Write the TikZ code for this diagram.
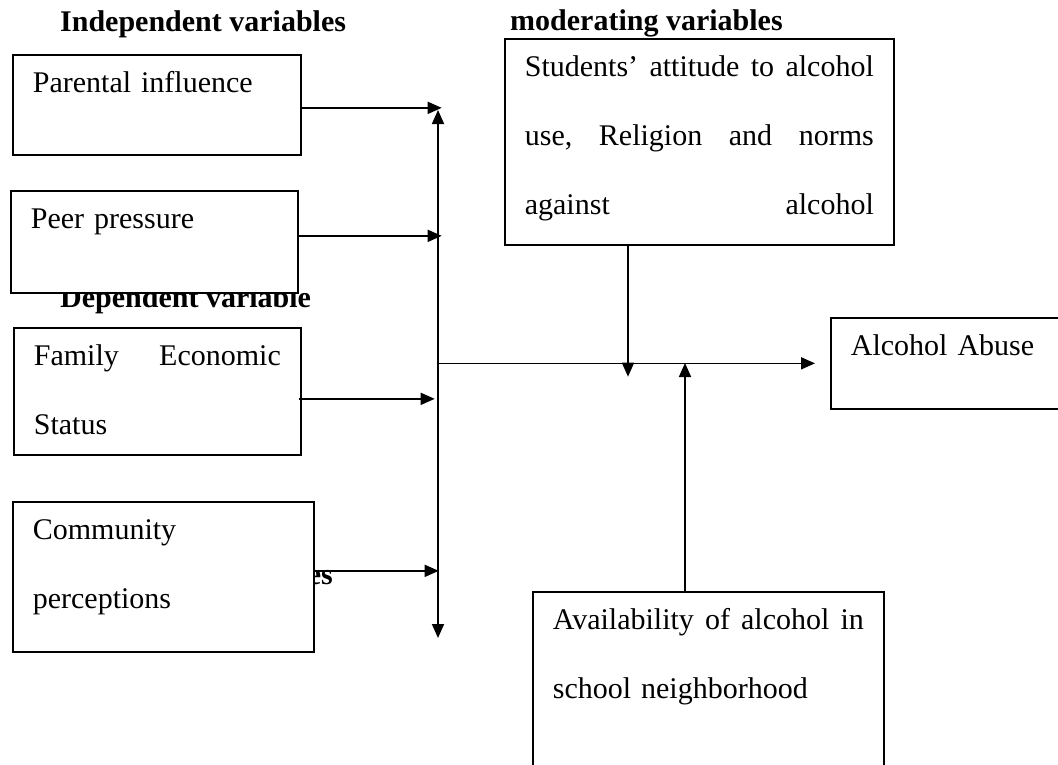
\documentclass[tikz,border=0pt]{standalone}
\usepackage{fontspec}
\setmainfont{Liberation Serif}
\usetikzlibrary{arrows.meta, positioning, calc}
\newcommand{\varfont}{\fontsize{30}{69}\selectfont}
\tikzset{
  varbox/.style={draw, fill=white, line width=1.7pt, anchor=north west, inner xsep=20pt, inner ysep=0pt, text height=38pt, align=left, font=\varfont},
  heading/.style={anchor=base west, inner sep=0pt, font=\varfont\bfseries},
  link/.style={line width=1.7pt, -{Triangle[length=14pt, width=12pt]}}
}

\begin{document}
\begin{tikzpicture}[x=1pt, y=-1pt]
\useasboundingbox (0,0) rectangle (1058,764);
\clip (0,0) rectangle (1058,764);

% Headings
\node[heading] (indep) at (60,31) {Independent variables};
\node[heading] (moder) at (510,30) {moderating variables};
\node[heading] (dep) at (60,307) {Dependent variable};
\node[heading, anchor=base east] (es) at (333,584) {es};

% Independent variables
\node[varbox, text width=248pt, text depth=62pt] (par) at (12,54) {Parental influence};
\node[varbox, text width=247pt, text depth=64pt] (peer) at (10,190) {Peer pressure};
\node[varbox, text width=247pt, text depth=89pt] (fam) at (13,327) {\makebox[\linewidth]{Family\hfill Economic}\\Status};
\node[varbox, text width=261pt, text depth=112pt] (com) at (12,501) {Community\\perceptions};

% Moderating, intervening and dependent variables
\node[varbox, text width=349pt, text depth=168pt] (mod) at (504,38) {\makebox[\linewidth]{Students'\hfill attitude\hfill to\hfill alcohol}\\\makebox[\linewidth]{use,\hfill Religion\hfill and\hfill norms}\\\makebox[\linewidth]{against\hfill alcohol}};
\node[varbox, text width=200pt, text depth=53pt] (abuse) at (830,317) {Alcohol Abuse};
\node[varbox, text width=311pt, text depth=152pt] (avail) at (532,591) {\makebox[\linewidth]{Availability\hfill of\hfill alcohol\hfill in}\\school neighborhood};

% Links to the hub
\coordinate (hub) at (438,373);
\coordinate (top) at (438,110);
\coordinate (bot) at (438,638);
\draw[link] (hub) -- (top);
\draw[link] (hub) -- (bot);
\draw[link] ([yshift=-3pt]par.east) -- ++(140,0);
\draw[link] ([yshift=6pt]peer.east) -- ++(143,0);
\draw[link] ([yshift=-7.5pt, xshift=-3pt]fam.east) -- ++(136,0);
\draw[link] ([yshift=6pt]com.east) -- ++(124,0);

% Hub to alcohol abuse
\draw[link] (hub |- abuse.west) -- ([xshift=-15pt]abuse.west);
\draw[link] ([xshift=124pt]mod.south west) -- ++(0,131);
\draw[link] ([xshift=153pt]avail.north west) -- ++(0,-228);
\end{tikzpicture}
\end{document}
